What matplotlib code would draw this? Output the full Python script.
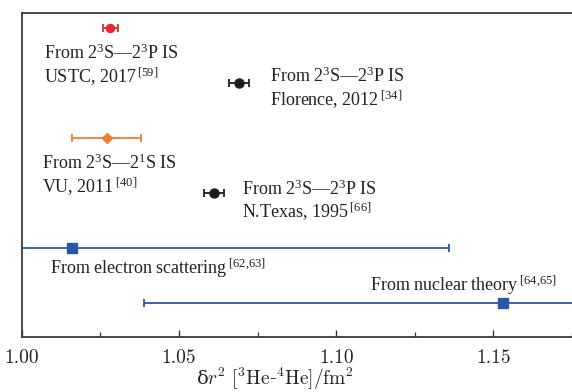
import matplotlib
matplotlib.use("Agg")
import matplotlib.pyplot as plt

# He-3 / He-4 squared charge radius difference, fm^2
ustc = [1.0281, 0.0024]
florence = [1.069, 0.0032]
vu = [1.027, 0.011]
ntexas = [1.061, 0.0032]
escat = [1.016, 0.120]
ntheory = [1.153, 0.114]

rows = [6, 5, 4, 3, 2, 1]  # vertical slot for each result, top to bottom
xticks = [1.00, 1.05, 1.10, 1.15]
xtick_labels = ["1.00", "1.05", "1.10", "1.15"]

plt.rcParams["font.family"] = "Liberation Serif"
plt.rcParams["mathtext.fontset"] = "custom"
plt.rcParams["mathtext.rm"] = "Liberation Serif"
plt.rcParams["mathtext.it"] = "Liberation Serif:italic"

RED = "#e8262b"
ORANGE = "#f07d33"
BLUE = "#2a57a9"
BLACK = "#1c1c1c"
TXT = "#222222"

fig = plt.figure(figsize=(5.72, 3.92), dpi=100)
ax = fig.add_axes([0.0383, 0.141, 0.9617, 0.825])

ax.errorbar(ustc[0], rows[0], xerr=ustc[1], fmt="o", color=RED, ms=5.8,
            capsize=2.6, elinewidth=1.3, capthick=1.3)
ax.errorbar(florence[0], rows[1], xerr=florence[1], fmt="o", color=BLACK, ms=6.5,
            capsize=3.0, elinewidth=1.3, capthick=1.3)
ax.errorbar(vu[0], rows[2], xerr=vu[1], fmt="D", color=ORANGE, ms=5.0,
            capsize=3.0, elinewidth=1.3, capthick=1.3)
ax.errorbar(ntexas[0], rows[3], xerr=ntexas[1], fmt="o", color=BLACK, ms=6.5,
            capsize=3.0, elinewidth=1.3, capthick=1.3)
ax.errorbar(escat[0], rows[4], xerr=escat[1], fmt="s", color=BLUE, ms=6.5,
            capsize=3.0, elinewidth=1.3, capthick=1.3)
ax.errorbar(ntheory[0], rows[5], xerr=ntheory[1], fmt="s", color=BLUE, ms=6.5,
            capsize=3.0, elinewidth=1.3, capthick=1.3)

fs = 13
ax.text(1.0070, 5.541, r"From $2^3$S—$2^3$P IS", fontsize=fs, color=TXT, va="center")
ax.text(1.0070, 5.105, r"USTC, 2017$\,^{[59]}$", fontsize=fs, color=TXT, va="center")
ax.text(1.0788, 5.123, r"From $2^3$S—$2^3$P IS", fontsize=fs, color=TXT, va="center")
ax.text(1.0788, 4.688, r"Florence, 2012$\,^{[34]}$", fontsize=fs, color=TXT, va="center")
ax.text(1.0065, 3.539, r"From $2^3$S—$2^1$S IS", fontsize=fs, color=TXT, va="center")
ax.text(1.0065, 3.114, r"VU, 2011$\,^{[40]}$", fontsize=fs, color=TXT, va="center")
ax.text(1.0699, 3.073, r"From $2^3$S—$2^3$P IS", fontsize=fs, color=TXT, va="center")
ax.text(1.0699, 2.655, r"N.Texas, 1995$\,^{[66]}$", fontsize=fs, color=TXT, va="center")
ax.text(1.0089, 1.638, r"From electron scattering$\,^{[62{,}63]}$", fontsize=fs, color=TXT, va="center")
ax.text(1.1107, 1.329, r"From nuclear theory$\,^{[64{,}65]}$", fontsize=fs, color=TXT, va="center")

ax.set_xlim(1.0, 1.174)
ax.set_ylim(0.394, 6.26)
ax.set_yticks([])
ax.set_xticks(xticks)
ax.set_xticks([1.025, 1.075, 1.125, 1.175], minor=True)
ax.set_xticklabels(xtick_labels, fontfamily="cmr10", fontsize=14, color=TXT)
ax.tick_params(axis="x", which="major", direction="in", length=5, width=1.0, color="#333333", pad=9)
ax.tick_params(axis="x", which="minor", direction="in", length=3.5, width=0.9, color="#333333")

for side in ["top", "left", "bottom"]:
    ax.spines[side].set_color("#3a3a3a")
    ax.spines[side].set_linewidth(1.3)
ax.spines["right"].set_visible(False)

# upright delta from DejaVu Serif, the rest set in Computer Modern math
ax.set_xlabel(r"δ$r^2\ [^3\mathrm{He}$-$^4\mathrm{He}]/\mathrm{fm}^2$", fontfamily="DejaVu Serif",
              math_fontfamily="cm", fontsize=14, color=TXT)
ax.xaxis.set_label_coords(0.46, -0.09)

fig.savefig("out.png", dpi=100)
